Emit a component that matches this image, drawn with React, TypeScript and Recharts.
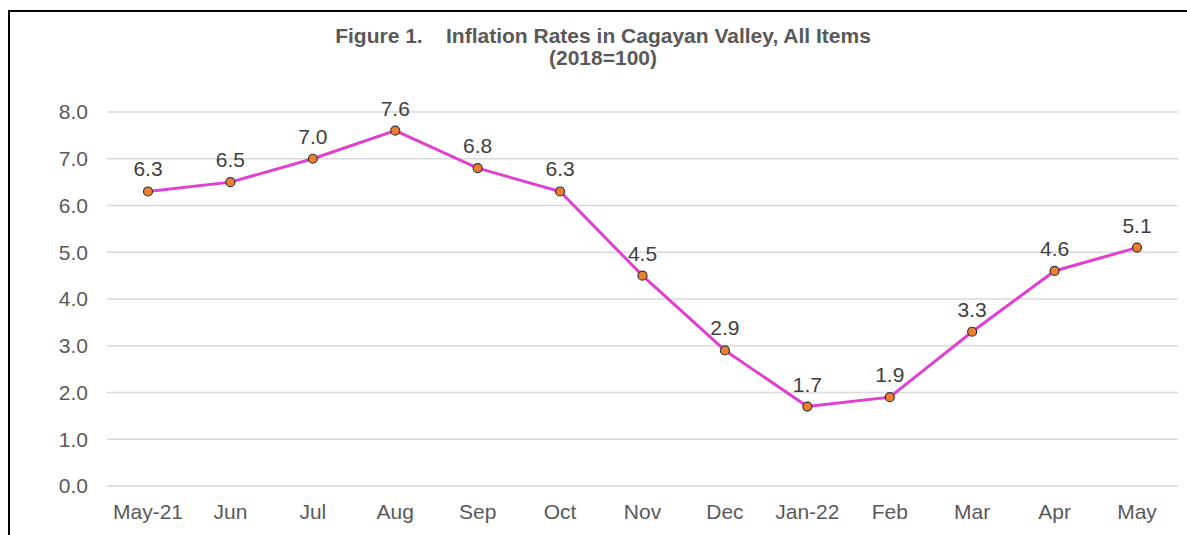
import React from 'react'
import { LineChart, Line, XAxis, YAxis, CartesianGrid, LabelList } from 'recharts'

const months = ['May-21', 'Jun', 'Jul', 'Aug', 'Sep', 'Oct', 'Nov', 'Dec', 'Jan-22', 'Feb', 'Mar', 'Apr', 'May']
const rates = [6.3, 6.5, 7.0, 7.6, 6.8, 6.3, 4.5, 2.9, 1.7, 1.9, 3.3, 4.6, 5.1]
const yTicks = [0, 1, 2, 3, 4, 5, 6, 7, 8]

const data = months.map((m, i) => ({ month: m, rate: rates[i] }))

const font = '"Liberation Sans", Arial, sans-serif'

export default function App() {
  return (
    <div style={{ position: 'fixed', left: 0, top: 0, width: 1187, height: 535, background: '#fff', overflow: 'hidden' }}>
      <div
        style={{
          position: 'absolute',
          left: 8,
          top: 10,
          width: 1300,
          height: 700,
          borderTop: '2px solid #000',
          borderLeft: '2px solid #000',
        }}
      />
      <div
        style={{
          position: 'absolute',
          left: 0,
          width: 1206,
          top: 25,
          textAlign: 'center',
          fontFamily: font,
          fontWeight: 'bold',
          fontSize: 21,
          lineHeight: '22px',
          color: '#595959',
          whiteSpace: 'pre',
        }}
      >
        {'Figure 1.    Inflation Rates in Cagayan Valley, All Items\n(2018=100)'}
      </div>
      <div style={{ position: 'absolute', left: 0, top: 0 }}>
        <LineChart width={1187} height={535} data={data} margin={{ top: 112, right: 9, bottom: 19, left: 0 }}>
          <CartesianGrid vertical={false} stroke="#d9d9d9" strokeWidth={1.5} />
          <XAxis
            dataKey="month"
            height={30}
            axisLine={false}
            tickLine={false}
            tickMargin={12}
            padding={{ left: 41, right: 41 }}
            interval={0}
            tick={{ fill: '#595959', fontSize: 21, fontFamily: font }}
          />
          <YAxis
            width={107}
            domain={[0, 8]}
            ticks={yTicks}
            axisLine={false}
            tickLine={false}
            tickMargin={13}
            tickFormatter={(v: number) => v.toFixed(1)}
            tick={{ fill: '#595959', fontSize: 21, fontFamily: font }}
          />
          <Line
            type="linear"
            dataKey="rate"
            stroke="#e040d0"
            strokeWidth={3}
            dot={{ r: 4.5, fill: '#ed7d31', stroke: '#333333', strokeWidth: 1.2 }}
            isAnimationActive={false}
          >
            <LabelList
              dataKey="rate"
              position="top"
              offset={15}
              formatter={(v: number) => v.toFixed(1)}
              style={{ fill: '#404040', fontSize: 21, fontFamily: font }}
            />
          </Line>
        </LineChart>
      </div>
    </div>
  )
}
